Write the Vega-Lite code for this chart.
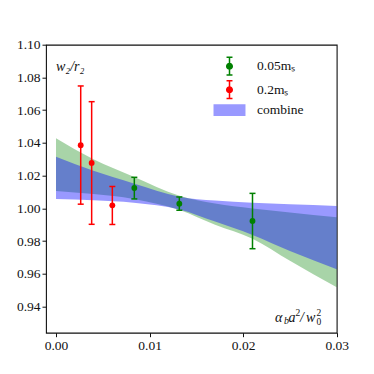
{
  "$schema": "https://vega.github.io/schema/vega-lite/v6.json",
  "width": 290.7,
  "height": 288,
  "autosize": "none",
  "padding": {"left": 46, "top": 44.7, "right": 37.3, "bottom": 41.3},
  "background": "white",
  "config": {
    "view": {"stroke": "#111", "strokeWidth": 1.1},
    "axis": {
      "grid": false, "domain": false, "ticks": true, "tickColor": "#111", "tickSize": 4, "tickWidth": 1,
      "labelFont": "Liberation Serif", "labelFontSize": 13.5, "labelColor": "#111", "title": null,
      "labelOverlap": false, "labelBound": false, "labelFlush": false, "labelPadding": 2, "tickCount": 40
    }
  },
  "datasets": {
    "points": [
      {"series": "0.2mₛ", "x": 0.00264, "y": 1.0386, "lo": 1.0026, "hi": 1.0748},
      {"series": "0.2mₛ", "x": 0.00381, "y": 1.0278, "lo": 0.9903, "hi": 1.0652},
      {"series": "0.2mₛ", "x": 0.00602, "y": 1.0019, "lo": 0.9902, "hi": 1.0134},
      {"series": "0.05mₛ", "x": 0.00837, "y": 1.0125, "lo": 1.0058, "hi": 1.0190},
      {"series": "0.05mₛ", "x": 0.01318, "y": 1.0029, "lo": 0.9989, "hi": 1.0070},
      {"series": "0.05mₛ", "x": 0.0210, "y": 0.9923, "lo": 0.9754, "hi": 1.0092}
    ],
    "green_band": [
      {"x": 0.0, "lo": 1.0107, "hi": 1.0428},
      {"x": 0.004, "lo": 1.0088, "hi": 1.0300},
      {"x": 0.0083, "lo": 1.0058, "hi": 1.0194},
      {"x": 0.0132, "lo": 0.9990, "hi": 1.0078},
      {"x": 0.017, "lo": 0.9900, "hi": 1.0030},
      {"x": 0.021, "lo": 0.9815, "hi": 1.0000},
      {"x": 0.025, "lo": 0.9680, "hi": 0.9975},
      {"x": 0.03, "lo": 0.9518, "hi": 0.9946}
    ],
    "combine_band": [
      {"x": 0.0, "lo": 1.0058, "hi": 1.0316},
      {"x": 0.004, "lo": 1.0050, "hi": 1.0230},
      {"x": 0.0083, "lo": 1.0035, "hi": 1.0153},
      {"x": 0.0132, "lo": 0.9994, "hi": 1.0072},
      {"x": 0.017, "lo": 0.9920, "hi": 1.0048},
      {"x": 0.021, "lo": 0.9838, "hi": 1.0035},
      {"x": 0.025, "lo": 0.9740, "hi": 1.0025},
      {"x": 0.03, "lo": 0.9628, "hi": 1.0015}
    ],
    "anchor": [{}]
  },
  "layer": [
    {
      "data": {"name": "green_band"},
      "mark": {"type": "area", "color": "green", "opacity": 0.34, "interpolate": "monotone"},
      "encoding": {
        "x": {"field": "x", "type": "quantitative", "scale": {"domain": [-0.00107, 0.03], "nice": false, "zero": false},
              "axis": {"values": [0, 0.01, 0.02, 0.03], "format": ".2f", "tickCount": 40}},
        "y": {"field": "lo", "type": "quantitative", "scale": {"domain": [0.9241, 1.1], "nice": false, "zero": false},
              "axis": {"values": [0.94, 0.96, 0.98, 1.0, 1.02, 1.04, 1.06, 1.08, 1.1], "format": ".2f", "tickCount": 40}},
        "y2": {"field": "hi"}
      }
    },
    {
      "data": {"name": "combine_band"},
      "mark": {"type": "area", "color": "blue", "opacity": 0.4, "interpolate": "monotone"},
      "encoding": {
        "x": {"field": "x", "type": "quantitative", "scale": {"domain": [-0.00107, 0.03], "nice": false, "zero": false}},
        "y": {"field": "lo", "type": "quantitative", "scale": {"domain": [0.9241, 1.1], "nice": false, "zero": false}},
        "y2": {"field": "hi"}
      }
    },
    {
      "data": {"name": "points"},
      "mark": {"type": "rule", "strokeWidth": 1.5},
      "encoding": {
        "x": {"field": "x", "type": "quantitative"},
        "y": {"field": "lo", "type": "quantitative"},
        "y2": {"field": "hi"},
        "color": {"field": "series", "type": "nominal",
                  "scale": {"domain": ["0.05mₛ", "0.2mₛ", "combine"], "range": ["green", "red", "#9999ff"]}}
      }
    },
    {
      "data": {"name": "points"},
      "mark": {"type": "tick", "orient": "horizontal", "size": 6, "thickness": 1.5, "opacity": 1},
      "encoding": {
        "x": {"field": "x", "type": "quantitative"},
        "y": {"field": "lo", "type": "quantitative"},
        "color": {"field": "series", "type": "nominal"}
      }
    },
    {
      "data": {"name": "points"},
      "mark": {"type": "tick", "orient": "horizontal", "size": 6, "thickness": 1.5, "opacity": 1},
      "encoding": {
        "x": {"field": "x", "type": "quantitative"},
        "y": {"field": "hi", "type": "quantitative"},
        "color": {"field": "series", "type": "nominal"}
      }
    },
    {
      "data": {"name": "points"},
      "mark": {"type": "point", "shape": "circle", "filled": true, "opacity": 1, "size": 34},
      "encoding": {
        "x": {"field": "x", "type": "quantitative"},
        "y": {"field": "y", "type": "quantitative"},
        "color": {"field": "series", "type": "nominal"}
      }
    },
    {
      "data": {"name": "points"},
      "mark": {"type": "point", "filled": true, "opacity": 0, "size": 200},
      "encoding": {
        "x": {"field": "x", "type": "quantitative"},
        "y": {"field": "y", "type": "quantitative"},
        "color": {"field": "series", "type": "nominal",
                  "legend": {"orient": "none", "legendX": 176, "legendY": 14, "title": null, "padding": 0,
                             "symbolSize": 200, "symbolOpacity": 1, "symbolStrokeWidth": 0, "labelOffset": 20, "rowPadding": 2.5,
                             "labelFont": "Liberation Serif", "labelFontSize": 13.5, "labelColor": "#111"}},
        "shape": {"field": "series", "type": "nominal",
                  "scale": {"domain": ["0.05mₛ", "0.2mₛ", "combine"],
                            "range": [
                              "M-0.106,-1.25H0.106V1.25H-0.106Z M-0.42,-1.356H0.42V-1.144H-0.42Z M-0.42,1.144H0.42V1.356H-0.42Z M0.5,0A0.5,0.5,0,1,1,-0.5,0A0.5,0.5,0,1,1,0.5,0Z",
                              "M-0.106,-1.25H0.106V1.25H-0.106Z M-0.42,-1.356H0.42V-1.144H-0.42Z M-0.42,1.144H0.42V1.356H-0.42Z M0.5,0A0.5,0.5,0,1,1,-0.5,0A0.5,0.5,0,1,1,0.5,0Z",
                              "M-2.26,-0.83H2.26V0.83H-2.26Z"]},
                  "legend": {"orient": "none", "legendX": 176, "legendY": 14, "title": null, "padding": 0,
                             "symbolSize": 200, "symbolOpacity": 1, "symbolStrokeWidth": 0, "labelOffset": 20, "rowPadding": 2.5,
                             "labelFont": "Liberation Serif", "labelFontSize": 13.5, "labelColor": "#111"}}
      }
    },
    {
      "data": {"name": "anchor"},
      "mark": {"type": "text", "text": "w₂/r₂", "align": "left", "baseline": "middle", "font": "Liberation Serif", "fontStyle": "italic", "fontSize": 14, "color": "#111"},
      "encoding": {"x": {"datum": 0.0, "type": "quantitative"}, "y": {"datum": 1.0866, "type": "quantitative"}}
    },
    {
      "data": {"name": "anchor"},
      "mark": {"type": "text", "text": "α", "align": "left", "baseline": "middle", "dx": 0, "font": "Liberation Serif", "fontStyle": "italic", "fontSize": 14, "color": "#111"},
      "encoding": {"x": {"datum": 0.0234, "type": "quantitative"}, "y": {"datum": 0.9331, "type": "quantitative"}}
    },
    {
      "data": {"name": "anchor"},
      "mark": {"type": "text", "text": "b", "align": "left", "baseline": "middle", "dx": 9, "dy": 3, "font": "Liberation Serif", "fontStyle": "italic", "fontSize": 10, "color": "#111"},
      "encoding": {"x": {"datum": 0.0234, "type": "quantitative"}, "y": {"datum": 0.9331, "type": "quantitative"}}
    },
    {
      "data": {"name": "anchor"},
      "mark": {"type": "text", "text": "a", "align": "left", "baseline": "middle", "dx": 13.5, "font": "Liberation Serif", "fontStyle": "italic", "fontSize": 14, "color": "#111"},
      "encoding": {"x": {"datum": 0.0234, "type": "quantitative"}, "y": {"datum": 0.9331, "type": "quantitative"}}
    },
    {
      "data": {"name": "anchor"},
      "mark": {"type": "text", "text": "2", "align": "left", "baseline": "middle", "dx": 20.5, "dy": -5, "font": "Liberation Serif", "fontSize": 9.5, "color": "#111"},
      "encoding": {"x": {"datum": 0.0234, "type": "quantitative"}, "y": {"datum": 0.9331, "type": "quantitative"}}
    },
    {
      "data": {"name": "anchor"},
      "mark": {"type": "text", "text": "/", "align": "left", "baseline": "middle", "dx": 25, "font": "Liberation Serif", "fontStyle": "italic", "fontSize": 14, "color": "#111"},
      "encoding": {"x": {"datum": 0.0234, "type": "quantitative"}, "y": {"datum": 0.9331, "type": "quantitative"}}
    },
    {
      "data": {"name": "anchor"},
      "mark": {"type": "text", "text": "w", "align": "left", "baseline": "middle", "dx": 31, "font": "Liberation Serif", "fontStyle": "italic", "fontSize": 14, "color": "#111"},
      "encoding": {"x": {"datum": 0.0234, "type": "quantitative"}, "y": {"datum": 0.9331, "type": "quantitative"}}
    },
    {
      "data": {"name": "anchor"},
      "mark": {"type": "text", "text": "2", "align": "left", "baseline": "middle", "dx": 41.5, "dy": -5, "font": "Liberation Serif", "fontSize": 9.5, "color": "#111"},
      "encoding": {"x": {"datum": 0.0234, "type": "quantitative"}, "y": {"datum": 0.9331, "type": "quantitative"}}
    },
    {
      "data": {"name": "anchor"},
      "mark": {"type": "text", "text": "0", "align": "left", "baseline": "middle", "dx": 41.5, "dy": 4, "font": "Liberation Serif", "fontSize": 9.5, "color": "#111"},
      "encoding": {"x": {"datum": 0.0234, "type": "quantitative"}, "y": {"datum": 0.9331, "type": "quantitative"}}
    }
  ]
}
